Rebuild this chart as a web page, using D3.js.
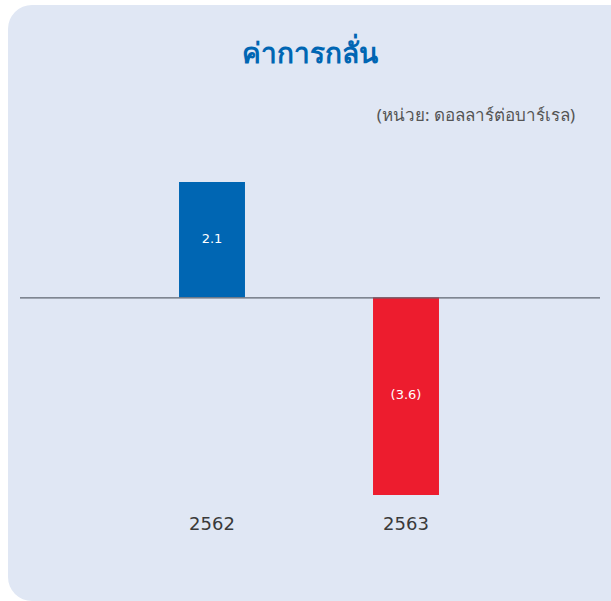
<!DOCTYPE html>
<html>
<head>
<meta charset="utf-8">
<script src="https://cdn.jsdelivr.net/npm/d3@7"></script>
<style>
  body { margin: 0; background: #ffffff; }
  svg { display: block; font-family: "Noto Sans", "DejaVu Sans", sans-serif; }
</style>
</head>
<body>
<div id="chart"></div>
<script>
// chart data
let years = ["2562", "2563"];
let values = [2.1, -3.6];
let valueLabels = ["2.1", "(3.6)"];
let barColors = ["#0066b3", "#ed1c2e"];
let titleText = "ค่าการกลั่น";
let unitText = "(หน่วย: ดอลลาร์ต่อบาร์เรล)";

let width = 611, height = 601;

let svg = d3.select("#chart").append("svg")
    .attr("width", width)
    .attr("height", height);

// panel background
svg.append("rect")
    .attr("x", 8)
    .attr("y", 5)
    .attr("width", 626)
    .attr("height", 596)
    .attr("rx", 24)
    .attr("fill", "#e0e7f4");

// title
svg.append("text")
    .text(titleText)
    .attr("x", 310)
    .attr("y", 63)
    .attr("text-anchor", "middle")
    .attr("font-size", "28px")
    .attr("font-weight", 700)
    .attr("fill", "#0066b3");

// unit
svg.append("text")
    .text(unitText)
    .attr("x", 575)
    .attr("y", 121)
    .attr("text-anchor", "end")
    .attr("font-size", "17px")
    .attr("fill", "#555555");

// scales
let x = d3.scaleBand()
    .domain(years)
    .range([115, 503])
    .paddingInner(0.66)
    .paddingOuter(0.33);

let y = d3.scaleLinear()
    .domain([-3.6, 2.1])
    .range([495, 182]);

// bars
svg.append("g").selectAll("rect")
    .data(values)
    .enter().append("rect")
    .attr("x", (d, i) => x(years[i]))
    .attr("width", x.bandwidth())
    .attr("y", d => y(Math.max(0, d)))
    .attr("height", d => Math.abs(y(d) - y(0)))
    .attr("fill", (d, i) => barColors[i]);

// value labels
svg.append("g").selectAll("text")
    .data(values)
    .enter().append("text")
    .text((d, i) => valueLabels[i])
    .attr("x", (d, i) => x(years[i]) + x.bandwidth() / 2)
    .attr("y", d => (y(d) + y(0)) / 2 + 3)
    .attr("text-anchor", "middle")
    .attr("font-size", "13px")
    .attr("font-family", "\"DejaVu Sans\", sans-serif")
    .attr("fill", "#ffffff");

// zero line
svg.append("line")
    .attr("x1", 20)
    .attr("x2", 600)
    .attr("y1", y(0) + 0.5)
    .attr("y2", y(0) + 0.5)
    .attr("stroke", "#5f6670")
    .attr("stroke-width", 1.2);

// category labels
let xAxis = svg.append("g")
    .attr("transform", "translate(0,517)")
    .call(d3.axisBottom(x).tickSize(0).tickPadding(0));
xAxis.select(".domain").remove();
xAxis.selectAll("text")
    .attr("font-size", "18px")
    .attr("font-family", "\"DejaVu Sans\", sans-serif")
    .attr("fill", "#3a3a3a");
</script>
</body>
</html>
